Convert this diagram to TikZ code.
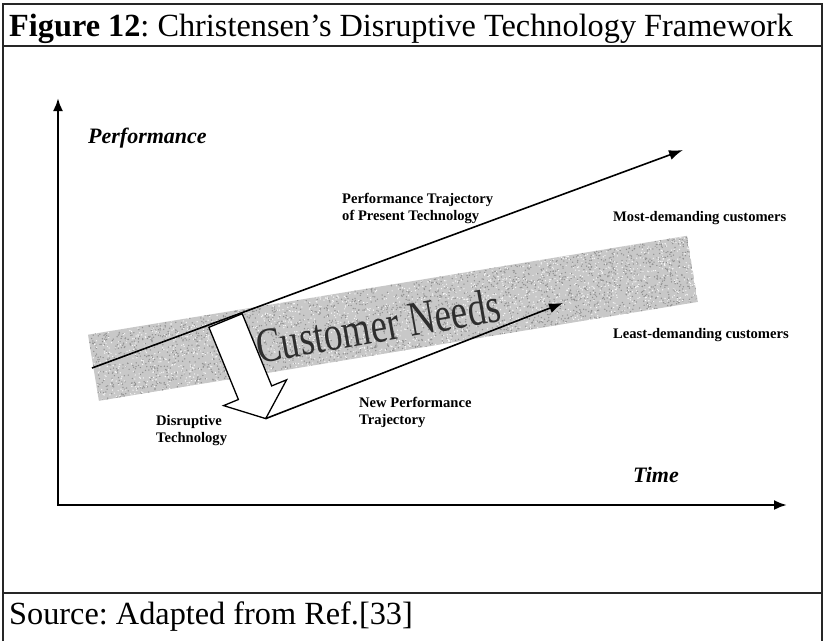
\documentclass[tikz,border=0pt]{standalone}
\usepackage{fontspec}
\setmainfont{Liberation Serif}
\usetikzlibrary{arrows.meta,calc}
\definecolor{bandgray}{RGB}{200,200,200}
\definecolor{speckdark}{RGB}{145,145,145}
\frenchspacing
\begin{document}
\begin{tikzpicture}[x=1pt,y=-1pt,
  frame/.style={line width=1.3pt, black!85},
  axis/.style={line width=2.4pt, line join=miter,
    {Latex[length=13pt,width=10pt]}-{Latex[length=13pt,width=10pt]}},
  traj/.style={line width=1.6pt, -{Latex[length=14pt,width=10pt]}},
  blockarrow/.style={line width=1.3pt, fill=white, line join=miter},
  lbl/.style={font=\fontsize{14.6}{17}\selectfont\bfseries, align=left, inner sep=0pt},
  axlbl/.style={font=\fontsize{22}{26}\selectfont\bfseries\itshape, inner sep=0pt},
  captext/.style={font=\fontsize{32.3}{38}\selectfont, inner sep=0pt}]
\useasboundingbox (0,0) rectangle (825,641);
\fill[white] (0,0) rectangle (825,641);

% outer frame with caption rows
\draw[frame] (3,641) -- (3,4) -- (822,4) -- (822,641);
\draw[frame] (3,46) -- (822,46);
\draw[frame] (3,593) -- (822,593);
\node[captext, anchor=base west] (title) at (9,36)
  {\textbf{Figure 12}: Christensen’s Disruptive Technology Framework};
\node[captext, anchor=base west] (source) at (9,624) {Source: Adapted from Ref.[33]};

% customer-needs band
\coordinate (TL) at (88,334.7);
\coordinate (TR) at (687,235.8);
\coordinate (BR) at (697.9,301.9);
\coordinate (BL) at (98.9,400.8);
\begin{scope}
  \clip (TL) -- (TR) -- (BR) -- (BL) -- cycle;
  \fill[bandgray] (TL) -- (TR) -- (BR) -- (BL) -- cycle;
  \pgfmathsetseed{17}
  \foreach \i in {1,...,2600} {
    \pgfmathsetmacro\u{rnd}
    \pgfmathsetmacro\v{rnd}
    \fill[speckdark] ($(TL)!\u!(TR)+\v*(10.9,66.1)$) circle (0.75pt);
  }
  \foreach \i in {1,...,1800} {
    \pgfmathsetmacro\u{rnd}
    \pgfmathsetmacro\v{rnd}
    \fill[white!94!gray] ($(TL)!\u!(TR)+\v*(10.9,66.1)$) circle (0.7pt);
  }
\end{scope}
\node[rotate=10, anchor=base, text=black!82, inner sep=0pt,
  font=\fontsize{49}{52}\selectfont] (needs) at (381,342)
  {\scalebox{0.76}[1]{Customer Needs}};

% disruptive-technology block arrow
\coordinate (s1) at (208.9,327.3);
\coordinate (s2) at (242.2,313.7);
\coordinate (s3) at (271.7,385.9);
\coordinate (w1) at (286.6,379.8);
\coordinate (tip) at (265.7,418.6);
\coordinate (w2) at (223.6,405.6);
\coordinate (s4) at (238.4,399.5);
\draw[blockarrow] (s1) -- (s2) -- (s3) -- (w1) -- (tip) -- (w2) -- (s4) -- cycle;

% axes
\coordinate (o) at (58,505);
\coordinate (ytip) at (58,98);
\coordinate (xtip) at (787,505);
\draw[axis] (ytip) -- (o) -- (xtip);
\node[axlbl, anchor=base west] (perf) at (88,143) {Performance};
\node[axlbl, anchor=base west] (time) at (633,482) {Time};

% performance trajectories
\coordinate (p0) at (92,368);
\coordinate (p1) at (683,150);
\coordinate (n1) at (563,303);
\draw[traj] (p0) -- (p1);
\draw[traj] (tip) -- (n1);

% labels
\node[lbl, anchor=north west] (ptraj) at (342,193)
  {Performance Trajectory\\of Present Technology};
\node[lbl, anchor=base west] (most) at (613,221) {Most-demanding customers};
\node[lbl, anchor=base west] (least) at (613,338) {Least-demanding customers};
\node[lbl, anchor=north west] (disr) at (156,415) {Disruptive\\Technology};
\node[lbl, anchor=north west] (newt) at (359,397) {New Performance\\Trajectory};
\end{tikzpicture}
\end{document}
